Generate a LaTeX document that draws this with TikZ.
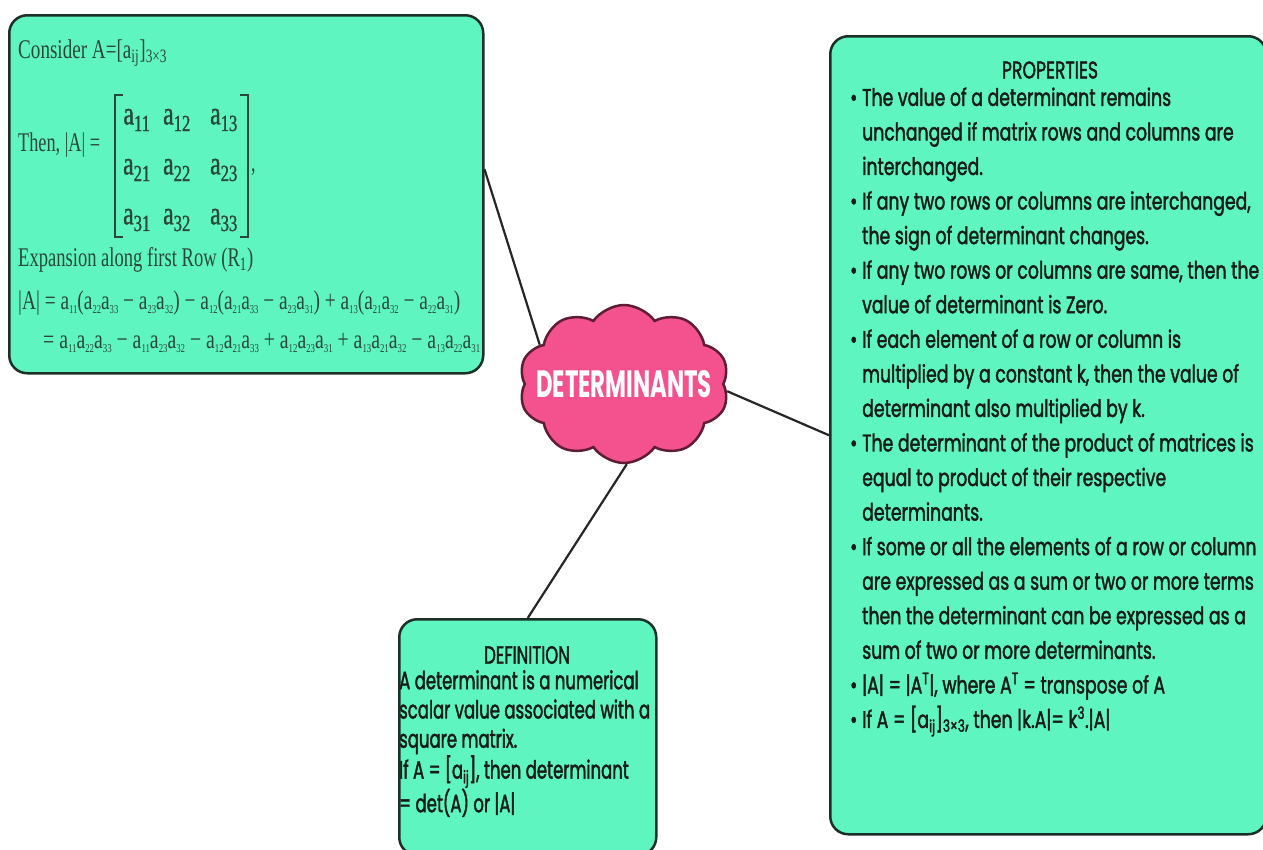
\documentclass[tikz,border=0pt]{standalone}
\usepackage{fontspec}
\usepackage{graphicx}
\usetikzlibrary{shapes.symbols}
\newfontfamily\popf[FakeStretch=0.72,FakeBold=1.6]{Poppins}
\newfontfamily\popd[FakeStretch=0.66,FakeBold=1.6]{Poppins}
\newfontfamily\popc[FakeStretch=0.6]{Poppins}
\newfontfamily\serf[FakeStretch=0.66]{Liberation Serif}
\newfontfamily\serb[FakeStretch=0.72,FakeBold=1.2]{Liberation Serif}
\definecolor{mint}{RGB}{94,245,192}
\definecolor{edgec}{RGB}{28,48,40}
\definecolor{pinkc}{RGB}{243,82,143}
\definecolor{cloudedge}{RGB}{95,28,52}
\definecolor{serink}{RGB}{42,72,58}
\definecolor{ink}{RGB}{22,28,25}
\newcommand\ax[1]{a\textsubscript{#1}}
\newcommand\ex[1]{a\raisebox{-4pt}{\fontsize{12}{12}\selectfont #1}}
\newcommand\fitw[2]{\resizebox{#1}{\height}{#2}}
\tikzset{
  box/.style={draw=edgec, fill=mint, line width=2.5pt, rounded corners=18pt, anchor=north west, inner sep=0pt},
  conn/.style={draw=black!85, line width=2.2pt},
  sertext/.style={anchor=west, inner sep=0pt, text=serink, font=\serf\fontsize{27}{30}\selectfont},
  ment/.style={inner sep=0pt, text=serink, font=\serb\fontsize{33}{36}\selectfont},
  proptext/.style={anchor=north west, inner sep=0pt, text=ink, align=left, font=\popf\fontsize{24}{34.56}\selectfont},
  deftext/.style={anchor=north west, inner sep=0pt, text=ink, align=left, font=\popd\fontsize{25}{29.25}\selectfont},
}
\begin{document}
\begin{tikzpicture}[x=1pt,y=-1pt]
\useasboundingbox (0,0) rectangle (1263,849);
\fill[white] (0,0) rectangle (1263,849);
\begin{scope}
\clip (0,0) rectangle (1263,849);
% boxes
\node[box, minimum width=474pt, minimum height=358pt] (calc) at (8,14) {};
\node[box, minimum width=436pt, minimum height=798pt] (prop) at (829,35) {};
\node[box, minimum width=257pt, minimum height=236pt] (defn) at (398,618) {};
% cloud
\node[cloud, cloud puffs=10, cloud puff arc=110, aspect=1.3, fill=pinkc, draw=cloudedge, line width=2.5pt,
      minimum width=210pt, minimum height=158pt, inner sep=0pt] (det) at (624,384) {};
\node[inner sep=0pt, text=white, font=\popc\bfseries\fontsize{38}{40}\selectfont] (dettext) at (624,384) {DETERMINANTS};
% connectors
\draw[conn] (calc.6.5) -- (det.155);
\draw[conn] (det.-4) -- (prop.west);
\draw[conn] (det.-88) -- (defn.north);
% left box text
\node[sertext] (l1) at (18,53) {\fitw{149pt}{Consider A=[\ax{ij}]\textsubscript{3×3}}};
\node[sertext] (l2) at (18,145) {\fitw{82pt}{Then, |A| =}};
\foreach \r/\y in {1/120,2/170,3/220}
  \foreach \c/\x in {1/137,2/177,3/224}
    \node[ment] (m\r\c) at (\x,\y) {\ax{\r\c}};
\draw[draw=serink, line width=1.6pt] (123,95) -- (115,95) -- (115,237) -- (123,237);
\draw[draw=serink, line width=1.6pt] (240,95) -- (248,95) -- (248,237) -- (240,237);
\node[sertext] (comma) at (251,172) {,};
\node[sertext] (l3) at (18,260) {\fitw{235pt}{Expansion along first Row (R\textsubscript{1})}};
\node[sertext] (l4) at (18,303) {\fitw{442pt}{|A| = \ex{11}(\ex{22}\ex{33} − \ex{23}\ex{32}) − \ex{12}(\ex{21}\ex{33} − \ex{23}\ex{31}) + \ex{13}(\ex{21}\ex{32} − \ex{22}\ex{31})}};
\node[sertext] (l5) at (43,343) {\fitw{437pt}{= \ex{11}\ex{22}\ex{33} − \ex{11}\ex{23}\ex{32} − \ex{12}\ex{21}\ex{33} + \ex{12}\ex{23}\ex{31} + \ex{13}\ex{21}\ex{32} − \ex{13}\ex{22}\ex{31}}};
% properties text
\node[inner sep=0pt, text=ink, font=\popf\fontsize{24}{28}\selectfont] (ptitle) at (1050,70) {PROPERTIES};
\node[proptext] (plist) at (850,87.3) {\makebox[12pt][l]{\textbullet}The value of a determinant remains\\
\hspace*{12pt}unchanged if matrix rows and columns are\\
\hspace*{12pt}interchanged.\\
\makebox[12pt][l]{\textbullet}If any two rows or columns are interchanged,\\
\hspace*{12pt}the sign of determinant changes.\\
\makebox[12pt][l]{\textbullet}If any two rows or columns are same, then the\\
\hspace*{12pt}value of determinant is Zero.\\
\makebox[12pt][l]{\textbullet}If each element of a row or column is\\
\hspace*{12pt}multiplied by a constant k, then the value of\\
\hspace*{12pt}determinant also multiplied by k.\\
\makebox[12pt][l]{\textbullet}The determinant of the product of matrices is\\
\hspace*{12pt}equal to product of their respective\\
\hspace*{12pt}determinants.\\
\makebox[12pt][l]{\textbullet}If some or all the elements of a row or column\\
\hspace*{12pt}are expressed as a sum or two or more terms\\
\hspace*{12pt}then the determinant can be expressed as a\\
\hspace*{12pt}sum of two or more determinants.\\
\makebox[12pt][l]{\textbullet}|A| = |A\textsuperscript{T}|, where A\textsuperscript{T} = transpose of A\\
\makebox[12pt][l]{\textbullet}If A = [a\textsubscript{ij}]\textsubscript{3×3}, then |k.A|= k\textsuperscript{3}.|A|};
% definition text
\node[inner sep=0pt, text=ink, font=\popd\fontsize{25}{28}\selectfont] (dtitle) at (527,655) {DEFINITION};
\node[deftext] (dlist) at (399,670) {A determinant is a numerical\\
scalar value associated with a\\
square matrix.\\
If A = [a\textsubscript{ij}], then determinant\\
= det(A) or |A|};
\end{scope}
\end{tikzpicture}
\end{document}
